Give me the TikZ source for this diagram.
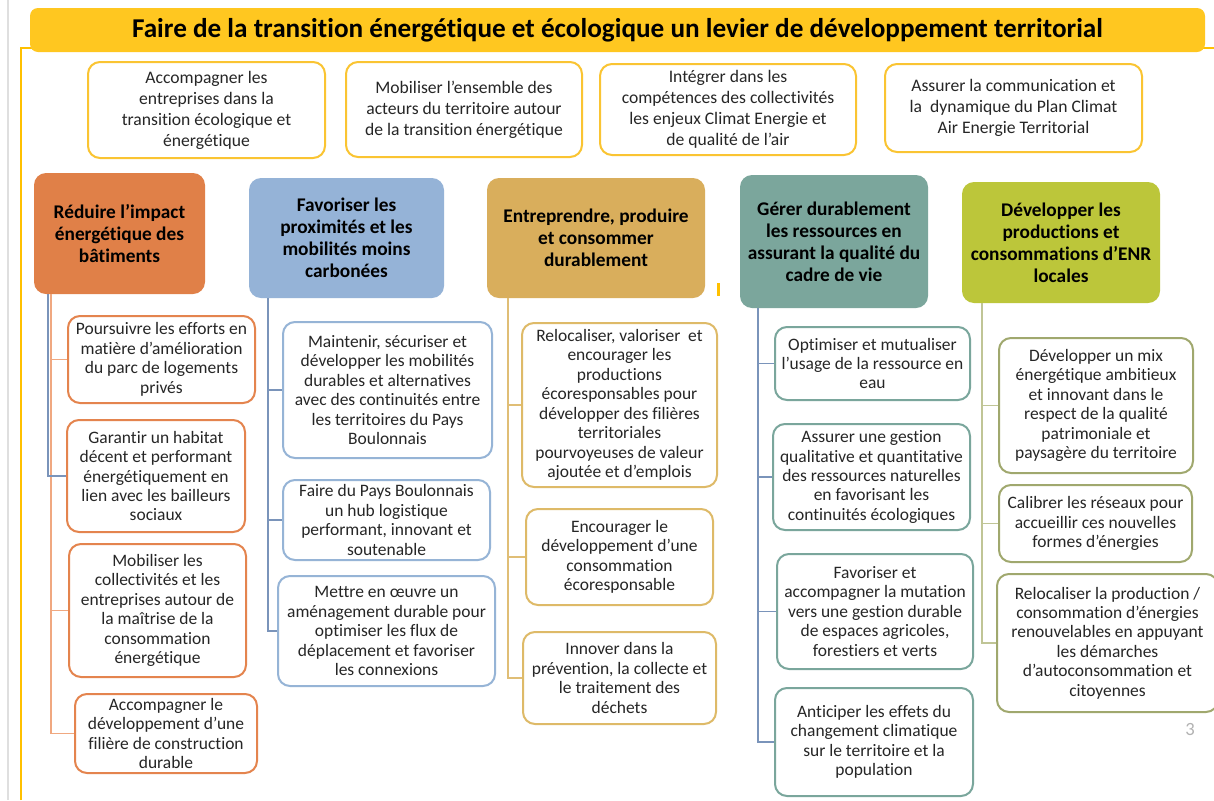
\documentclass[tikz,border=0pt]{standalone}
\usepackage{fontspec}
\setmainfont{Carlito}[Ligatures={NoCommon}]
\usepackage{tikz,xcolor}
\usetikzlibrary{positioning}

\definecolor{titleyellow}{RGB}{255,199,32}
\definecolor{framegold}{RGB}{255,192,0}
\definecolor{boxgold}{RGB}{250,196,50}
\definecolor{textgray}{RGB}{38,38,38}
\definecolor{hOrange}{RGB}{224,128,72}
\definecolor{hBlue}{RGB}{149,179,215}
\definecolor{hTan}{RGB}{217,174,92}
\definecolor{hTeal}{RGB}{123,166,156}
\definecolor{hLime}{RGB}{188,198,58}
\definecolor{bOrange}{RGB}{228,132,78}
\definecolor{bBlue}{RGB}{150,180,214}
\definecolor{bTan}{RGB}{222,186,104}
\definecolor{bTeal}{RGB}{122,166,156}
\definecolor{bOlive}{RGB}{160,168,110}
\definecolor{lOrange}{RGB}{240,168,128}
\definecolor{lSlate}{RGB}{122,148,186}
\definecolor{lTan}{RGB}{224,190,118}
\definecolor{lOlive}{RGB}{192,197,150}

\def\unit{0.75}

\tikzset{
    titlebar/.style={
        fill=titleyellow,
        rounded corners=6pt,
        align=center,
        font=\fontsize{20.4}{24}\selectfont\bfseries
    },
    topbox/.style={
        draw=boxgold,
        line width=1.5pt,
        rounded corners=9pt,
        fill=white,
        align=center,
        inner sep=1pt,
        text=textgray,
        font=\fontsize{13.2}{15.8}\selectfont
    },
    headbox/.style={
        rounded corners=9pt,
        align=center,
        inner sep=1pt,
        font=\fontsize{14.5}{16.5}\selectfont\bfseries
    },
    subbox/.style={
        line width=1.5pt,
        rounded corners=9pt,
        fill=white,
        align=center,
        inner sep=1pt,
        text=textgray,
        font=\fontsize{13.1}{14.6}\selectfont
    },
    trunk/.style={line width=1.2pt},
    boxsize/.style 2 args={minimum width=#1*\unit pt, minimum height=#2*\unit pt}
}

\begin{document}
\begin{tikzpicture}[x=\unit pt, y=-\unit pt]
        \useasboundingbox[fill=white] (0,0) rectangle (1214,800);
        \draw[gray!25, line width=0.8pt] (8,0) -- (8,800);
        \draw[framegold, line width=1.2pt] (21,800) -- (21,48) -- (1214,48);
        \fill[framegold] (716.5,283) rectangle (719.5,296);

        \node[titlebar, boxsize={1175}{44}] (title) at (617.5,30) {Faire de la transition énergétique et écologique un levier de développement territorial};

        \node[topbox, boxsize={237}{96}] (B1) at (206.5,110) {Accompagner les\\entreprises dans la\\transition écologique et\\énergétique};
        \node[topbox, boxsize={236}{95}] (B2) at (464,109.5) {Mobiliser l’ensemble des\\acteurs du territoire autour\\de la transition énergétique};
        \node[topbox, boxsize={256}{91}] (B3) at (728,109.5) {Intégrer dans les\\compétences des collectivités\\les enjeux Climat Energie et\\de qualité de l’air};
        \node[topbox, boxsize={257}{88}] (B4) at (1013.5,108) {Assurer la communication et\\la~ dynamique du Plan Climat\\Air Energie Territorial};

        \node[headbox, fill=hOrange, boxsize={171}{121}] (H1) at (119.5,233.5) {Réduire l’impact\\énergétique des\\bâtiments};
        \node[headbox, fill=hBlue, boxsize={195}{120}] (H2) at (346.5,238) {Favoriser les\\proximités et les\\mobilités moins\\carbonées};
        \node[headbox, fill=hTan, boxsize={218}{120}] (H3) at (596,238) {Entreprendre, produire\\et consommer\\durablement};
        \node[headbox, fill=hTeal, boxsize={188}{133}] (H4) at (834,241.5) {Gérer durablement\\les ressources en\\assurant la qualité du\\cadre de vie};
        \node[headbox, fill=hLime, boxsize={198}{121}] (H5) at (1061,242.5) {Développer les\\productions et\\consommations d’ENR\\locales};

        \node[subbox, draw=bOrange, boxsize={187}{87}] (C1a) at (161.5,359.5) {Poursuivre les efforts en\\matière d’amélioration\\du parc de logements\\privés};
        \node[subbox, draw=bOrange, boxsize={178}{112}, below=15*\unit pt of C1a, xshift=-5.5*\unit pt] (C1b) {Garantir un habitat\\décent et performant\\énergétiquement en\\lien avec les bailleurs\\sociaux};
        \node[subbox, draw=bOrange, boxsize={177}{133}, below=10*\unit pt of C1b, xshift=1.5*\unit pt] (C1c) {Mobiliser les\\collectivités et les\\entreprises autour de\\la maîtrise de la\\consommation\\énergétique};
        \node[subbox, draw=bOrange, boxsize={182}{79}, below=15*\unit pt of C1c, xshift=8.5*\unit pt] (C1d) {Accompagner le\\développement d’une\\filière de construction\\durable};

        \node[subbox, draw=bBlue, boxsize={209}{136}] (C2a) at (387.5,390) {Maintenir, sécuriser et\\développer les mobilités\\durables et alternatives\\avec des continuités entre\\les territoires du Pays\\Boulonnais};
        \node[subbox, draw=bBlue, boxsize={207}{80}, below=20*\unit pt of C2a, xshift=-1*\unit pt] (C2b) {Faire du Pays Boulonnais\\un hub logistique\\performant, innovant et\\soutenable};
        \node[subbox, draw=bBlue, boxsize={217}{110}, below=14*\unit pt of C2b] (C2c) {Mettre en œuvre un\\aménagement durable pour\\optimiser les flux de\\déplacement et favoriser\\les connexions};

        \node[subbox, draw=bTan, boxsize={195}{164}] (C3a) at (619.5,405) {Relocaliser, valoriser~ et\\encourager les\\productions\\écoresponsables pour\\développer des filières\\territoriales\\pourvoyeuses de valeur\\ajoutée et d’emplois};
        \node[subbox, draw=bTan, boxsize={187}{96}, below=20*\unit pt of C3a] (C3b) {Encourager le\\développement d’une\\consommation\\écoresponsable};
        \node[subbox, draw=bTan, boxsize={193}{92}, below=25*\unit pt of C3b] (C3c) {Innover dans la\\prévention, la collecte et\\le traitement des\\déchets};

        \node[subbox, draw=bTeal, boxsize={195}{73}] (C4a) at (872.5,363.5) {Optimiser et mutualiser\\l’usage de la ressource en\\eau};
        \node[subbox, draw=bTeal, boxsize={197}{106}, below=22*\unit pt of C4a, xshift=-1*\unit pt] (C4b) {Assurer une gestion\\qualitative et quantitative\\des ressources naturelles\\en favorisant les\\continuités écologiques};
        \node[subbox, draw=bTeal, boxsize={196}{115}, below=22*\unit pt of C4b, xshift=3.5*\unit pt] (C4c) {Favoriser et\\accompagner la mutation\\vers une gestion durable\\de espaces agricoles,\\forestiers et verts};
        \node[subbox, draw=bTeal, boxsize={198}{108}, below=17*\unit pt of C4c, xshift=-1*\unit pt] (C4d) {Anticiper les effets du\\changement climatique\\sur le territoire et la\\population};

        \node[subbox, draw=bOlive, boxsize={194}{135}] (C5a) at (1096,405.5) {Développer un mix\\énergétique ambitieux\\et innovant dans le\\respect de la qualité\\patrimoniale et\\paysagère du territoire};
        \node[subbox, draw=bOlive, boxsize={193}{77}, below=10*\unit pt of C5a, xshift=-0.5*\unit pt] (C5b) {Calibrer les réseaux pour\\accueillir ces nouvelles\\formes d’énergies};
        \node[subbox, draw=bOlive, boxsize={221}{138}, below=10*\unit pt of C5b, xshift=12*\unit pt] (C5c) {Relocaliser la production /\\consommation d’énergies\\renouvelables en appuyant\\les démarches\\d’autoconsommation et\\citoyennes};

        \foreach \n in {C1a,C1b,C1c,C1d}
            \draw[trunk, draw=lOrange] ([xshift=17*\unit pt]H1.south west) |- (\n.west);
        \draw[trunk, draw=lSlate] ([xshift=14*\unit pt]H1.south west) |- (C1b.west);
        \foreach \n in {C2a,C2b,C2c}
            \draw[trunk, draw=lSlate] ([xshift=19*\unit pt]H2.south west) |- (\n.west);
        \foreach \n in {C3a,C3b,C3c}
            \draw[trunk, draw=lTan] ([xshift=21*\unit pt]H3.south west) |- (\n.west);
        \foreach \n in {C4a,C4b,C4c,C4d}
            \draw[trunk, draw=lSlate] ([xshift=18*\unit pt]H4.south west) |- (\n.west);
        \foreach \n in {C5a,C5b,C5c}
            \draw[trunk, draw=lOlive] ([xshift=20*\unit pt]H5.south west) |- (\n.west);

        \node[text=gray!60, font=\fontsize{14}{16}\selectfont] (pagenum) at (1190,729) {3};
    \end{tikzpicture}
\end{document}
